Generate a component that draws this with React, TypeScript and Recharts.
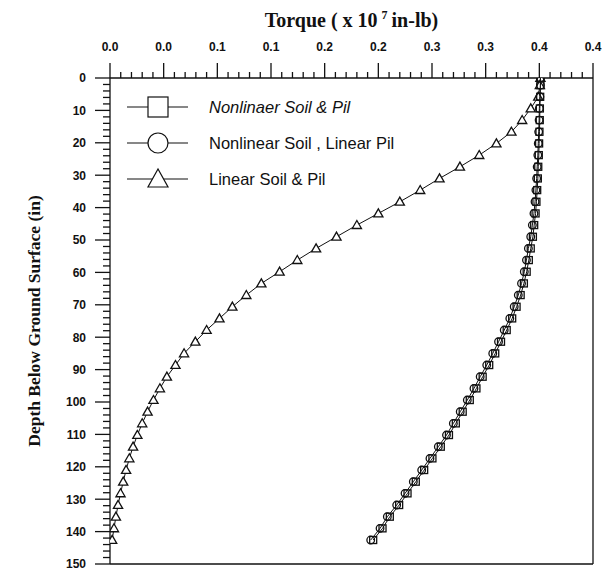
import React from 'react';
import { ScatterChart, Scatter, XAxis, YAxis, ReferenceLine } from 'recharts';

// Depth below ground surface (in) at which torque is reported
const depthIn = [
  0, 2.2, 5.8, 9.4, 13.0, 16.6, 20.2, 23.8, 27.4, 31.0, 34.6, 38.2, 41.8, 45.4,
  49.0, 52.6, 56.2, 59.8, 63.4, 67.0, 70.6, 74.2, 77.8, 81.4, 85.0, 88.6, 92.2,
  95.8, 99.4, 103.0, 106.6, 110.2, 113.8, 117.4, 121.0, 124.6, 128.2, 131.8,
  135.4, 139.0, 142.6,
];

// Torque (x 10^7 in-lb), nonlinear soil & nonlinear pile
const torqueNonlinearSoilPile = [
  0.401, 0.401, 0.4008, 0.4005, 0.4004, 0.4001, 0.3998, 0.3995, 0.399, 0.3986,
  0.398, 0.3973, 0.3965, 0.3952, 0.394, 0.392, 0.3902, 0.3882, 0.3856, 0.3826,
  0.3788, 0.3747, 0.3696, 0.3643, 0.3589, 0.3533, 0.3472, 0.3414, 0.3352,
  0.3286, 0.3222, 0.3158, 0.3082, 0.3004, 0.2927, 0.2849, 0.2772, 0.2694,
  0.2607, 0.2539, 0.2452,
];

// Torque (x 10^7 in-lb), nonlinear soil & linear pile
const torqueNonlinearSoilLinearPile = [
  0.401, 0.401, 0.4005, 0.4, 0.3998, 0.3994, 0.399, 0.3986, 0.398, 0.3975,
  0.3968, 0.396, 0.395, 0.3935, 0.392, 0.3898, 0.388, 0.386, 0.3834, 0.3804,
  0.3766, 0.3725, 0.3673, 0.362, 0.3566, 0.351, 0.3449, 0.3391, 0.3329, 0.3263,
  0.3199, 0.3135, 0.3059, 0.2981, 0.2904, 0.2826, 0.2749, 0.2671, 0.2584,
  0.2516, 0.2429,
];

// Torque (x 10^7 in-lb), linear soil & linear pile
const torqueLinearSoilPile = [
  0.401, 0.4005, 0.399, 0.392, 0.384, 0.374, 0.36, 0.344, 0.326, 0.307, 0.289,
  0.27, 0.25, 0.23, 0.211, 0.192, 0.1745, 0.158, 0.141, 0.127, 0.114, 0.102,
  0.09, 0.0795, 0.069, 0.061, 0.053, 0.0465, 0.0405, 0.035, 0.03, 0.0255,
  0.0215, 0.018, 0.015, 0.0123, 0.0098, 0.0075, 0.0055, 0.0037, 0.002,
];

const seriesNames = ['Nonlinaer Soil & Pil', 'Nonlinear Soil , Linear Pil', 'Linear Soil & Pil'];

const torqueMajorTicks = [0, 0.05, 0.1, 0.15, 0.2, 0.25, 0.3, 0.35, 0.4, 0.45];
const torqueTickLabels = ['0.0', '0.0', '0.1', '0.1', '0.2', '0.2', '0.3', '0.3', '0.4', '0.4'];
const depthMajorTicks = [0, 10, 20, 30, 40, 50, 60, 70, 80, 90, 100, 110, 120, 130, 140, 150];
const depthTickLabels = ['0', '10', '20', '30', '40', '50', '60', '70', '80', '90', '100', '110', '120', '130', '140', '150'];

// minor ticks every 0.01 torque units and every 2 in of depth
const torqueMinorTicks = Array.from({ length: 46 }, (_, i) => i / 100);
const depthMinorTicks = Array.from({ length: 76 }, (_, i) => i * 2);

const toPoints = (values: number[]) => values.map((t, i) => ({ torque: t, depth: depthIn[i] }));

const squareData = toPoints(torqueNonlinearSoilPile);
const circleData = toPoints(torqueNonlinearSoilLinearPile);
const triangleData = toPoints(torqueLinearSoilPile);

const SANS = '"Liberation Sans", Arial, sans-serif';
const SERIF = '"Liberation Serif", "Times New Roman", serif';
const INK = '#111';

const TopTick = (props: any) => {
  const { x, y, payload } = props;
  const idx = torqueMajorTicks.findIndex((t) => Math.abs(t - payload.value) < 1e-9);
  const major = idx >= 0;
  return (
    <g>
      <line x1={x} x2={x} y1={y} y2={y - (major ? 15 : 6)} stroke={INK} strokeWidth={1.3} />
      {major && (
        <text x={x} y={y - 27} textAnchor="middle" fontFamily={SANS} fontWeight="bold" fontSize={12} fill={INK}>
          {torqueTickLabels[idx]}
        </text>
      )}
    </g>
  );
};

const LeftTick = (props: any) => {
  const { x, y, payload } = props;
  const idx = depthMajorTicks.indexOf(payload.value);
  const major = idx >= 0;
  return (
    <g>
      <line x1={x} x2={x - (major ? 15 : 7)} y1={y} y2={y} stroke={INK} strokeWidth={1.3} />
      {major && (
        <text x={x - 24} y={y + 4.3} textAnchor="end" fontFamily={SANS} fontWeight="bold" fontSize={12} fill={INK}>
          {depthTickLabels[idx]}
        </text>
      )}
    </g>
  );
};

const SquareMark = (p: any) => (
  <rect x={p.cx - 3.5} y={p.cy - 3.5} width={7} height={7} fill="none" stroke={INK} strokeWidth={1.3} />
);
const CircleMark = (p: any) => (
  <circle cx={p.cx} cy={p.cy} r={3.8} fill="none" stroke={INK} strokeWidth={1.3} />
);
const TriangleMark = (p: any) => (
  <polygon
    points={`${p.cx},${p.cy - 4.6} ${p.cx - 4.6},${p.cy + 3.4} ${p.cx + 4.6},${p.cy + 3.4}`}
    fill="#fff"
    stroke={INK}
    strokeWidth={1.3}
  />
);

const W = 602;
const H = 564;

const legendRows = [99, 135, 171];

const LegendSymbol = ({ kind, cx, cy }: { kind: number; cx: number; cy: number }) => {
  if (kind === 0) return <rect x={cx - 10} y={cy - 10} width={20} height={20} fill="#fff" stroke={INK} strokeWidth={1.2} />;
  if (kind === 1) return <circle cx={cx} cy={cy} r={10} fill="#fff" stroke={INK} strokeWidth={1.2} />;
  return (
    <polygon
      points={`${cx},${cy - 10} ${cx - 10},${cy + 8} ${cx + 10},${cy + 8}`}
      fill="#fff"
      stroke={INK}
      strokeWidth={1.2}
    />
  );
};

export default function App() {
  return (
    <div style={{ position: 'relative', width: W, height: H, background: '#fff' }}>
      <ScatterChart width={W} height={H} margin={{ top: 10, right: 17, bottom: 8, left: 22 }}>
        <XAxis
          type="number"
          dataKey="torque"
          orientation="top"
          domain={[0, 0.45]}
          allowDataOverflow
          ticks={torqueMinorTicks}
          interval={0}
          tickSize={0}
          tickMargin={0}
          tickLine={false}
          tick={<TopTick />}
          height={60}
          axisLine={{ stroke: INK, strokeWidth: 1.3 }}
        />
        <YAxis
          type="number"
          dataKey="depth"
          reversed
          domain={[0, 150]}
          allowDataOverflow
          ticks={depthMinorTicks}
          interval={0}
          tickSize={0}
          tickMargin={0}
          tickLine={false}
          tick={<LeftTick />}
          width={80}
          axisLine={{ stroke: INK, strokeWidth: 1.3 }}
        />
        <ReferenceLine x={0.45} stroke={INK} strokeWidth={1.3} />
        <ReferenceLine y={150} stroke={INK} strokeWidth={1.3} />
        <Scatter
          name={seriesNames[2]}
          data={triangleData}
          line={{ stroke: INK, strokeWidth: 1 }}
          shape={TriangleMark}
          isAnimationActive={false}
        />
        <Scatter
          name={seriesNames[1]}
          data={circleData}
          line={{ stroke: INK, strokeWidth: 1 }}
          shape={CircleMark}
          isAnimationActive={false}
        />
        <Scatter
          name={seriesNames[0]}
          data={squareData}
          line={{ stroke: INK, strokeWidth: 1 }}
          shape={SquareMark}
          isAnimationActive={false}
        />
      </ScatterChart>
      <svg
        width={W}
        height={H}
        style={{ position: 'absolute', left: 0, top: 0, pointerEvents: 'none' }}
      >
        <text x={343.5} y={19} textAnchor="middle" fontFamily={SERIF} fontWeight="bold" fontSize={20} fill={INK}>
          Torque ( x 10
          <tspan dx={4} dy={-8} fontSize={12}>7</tspan>
          <tspan dx={4} dy={8}>in-lb)</tspan>
        </text>
        <text
          transform="translate(32, 313) rotate(-90)"
          textAnchor="middle"
          fontFamily={SERIF}
          fontWeight="bold"
          fontSize={17.5}
          fill={INK}
        >
          Depth Below Ground Surface (in)
        </text>
        {seriesNames.map((name, i) => {
          const cy = legendRows[i];
          return (
            <g key={name}>
              <line x1={119} x2={180} y1={cy} y2={cy} stroke={INK} strokeWidth={1.2} />
              <LegendSymbol kind={i} cx={150} cy={cy} />
              <text
                x={201}
                y={cy + 5.5}
                fontFamily={SANS}
                fontSize={16.5}
                fontStyle={i === 0 ? 'italic' : 'normal'}
                fill={INK}
              >
                {name}
              </text>
            </g>
          );
        })}
      </svg>
    </div>
  );
}
